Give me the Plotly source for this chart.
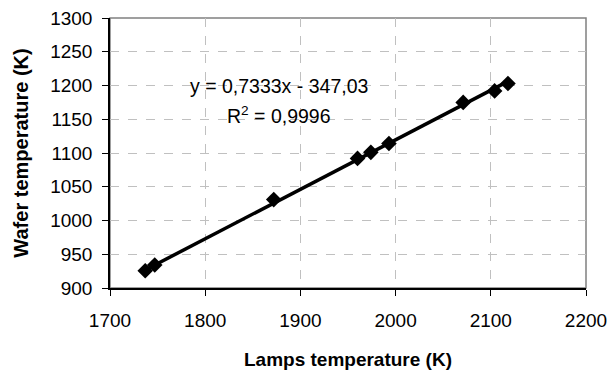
import numpy as np
import plotly.graph_objects as go

lamps_temp = [1737, 1747, 1872, 1960, 1974, 1993, 2071, 2104, 2118]
wafer_temp = [925.5, 934, 1031, 1092, 1101, 1114, 1175, 1192, 1203]
slope = 0.7333
intercept = -347.03
eq_text = "y = 0,7333x - 347,03"
r2_text = "R<sup>2</sup> = 0,9996"

x_ticks = [1700, 1800, 1900, 2000, 2100, 2200]
y_ticks = [900, 950, 1000, 1050, 1100, 1150, 1200, 1250, 1300]

font_family = "Liberation Sans, Arial, sans-serif"

fig = go.Figure()

# Trendline
xt = np.array([min(lamps_temp), max(lamps_temp)])
yt = slope * xt + intercept
fig.add_trace(go.Scatter(x=xt, y=yt, mode="lines",
                         line=dict(color="black", width=3.5),
                         showlegend=False, hoverinfo="skip"))

fig.add_trace(go.Scatter(x=lamps_temp, y=wafer_temp, mode="markers",
                         marker=dict(symbol="diamond", size=12, color="black",
                                     line=dict(color="black", width=0)),
                         showlegend=False))

fig.add_annotation(x=0.356, y=0.796, xref="paper", yref="paper",
                   text=eq_text, showarrow=False,
                   font=dict(family=font_family, size=19.5, color="black"))
fig.add_annotation(x=0.356, y=0.692, xref="paper", yref="paper",
                   text=r2_text, showarrow=False,
                   font=dict(family=font_family, size=19.5, color="black"))

# gray border (top/right)
fig.add_shape(type="rect", xref="paper", yref="paper", x0=0, y0=0, x1=1, y1=1,
              line=dict(color="#808080", width=1.5), layer="below")

fig.update_xaxes(range=[1700, 2200], tickvals=x_ticks, automargin=False,
                 showgrid=True, gridcolor="#c0c0c0", griddash="dash", gridwidth=1,
                 showline=True, linecolor="black", linewidth=1.5,
                 ticks="outside", ticklen=6, tickcolor="black", tickwidth=1,
                 ticklabelstandoff=8,
                 zeroline=False,
                 tickfont=dict(family=font_family, size=19, color="black"),
                 title=dict(text="<b>Lamps temperature (K)</b>", standoff=23,
                            font=dict(family=font_family, size=19, color="black")))
fig.update_yaxes(range=[900, 1300], tickvals=y_ticks, automargin=False,
                 showgrid=True, gridcolor="#c0c0c0", griddash="dash", gridwidth=1,
                 showline=True, linecolor="black", linewidth=1.5,
                 ticks="outside", ticklen=6, tickcolor="black", tickwidth=1,
                 ticklabelstandoff=6,
                 zeroline=False,
                 tickfont=dict(family=font_family, size=19, color="black"),
                 title=dict(text="<b>Wafer temperature (K)</b>", standoff=16,
                            font=dict(family=font_family, size=20, color="black")))

fig.update_layout(width=610, height=370,
                  margin=dict(l=110, r=24, t=18, b=82),
                  paper_bgcolor="white", plot_bgcolor="white")

fig.write_html("out.html")
